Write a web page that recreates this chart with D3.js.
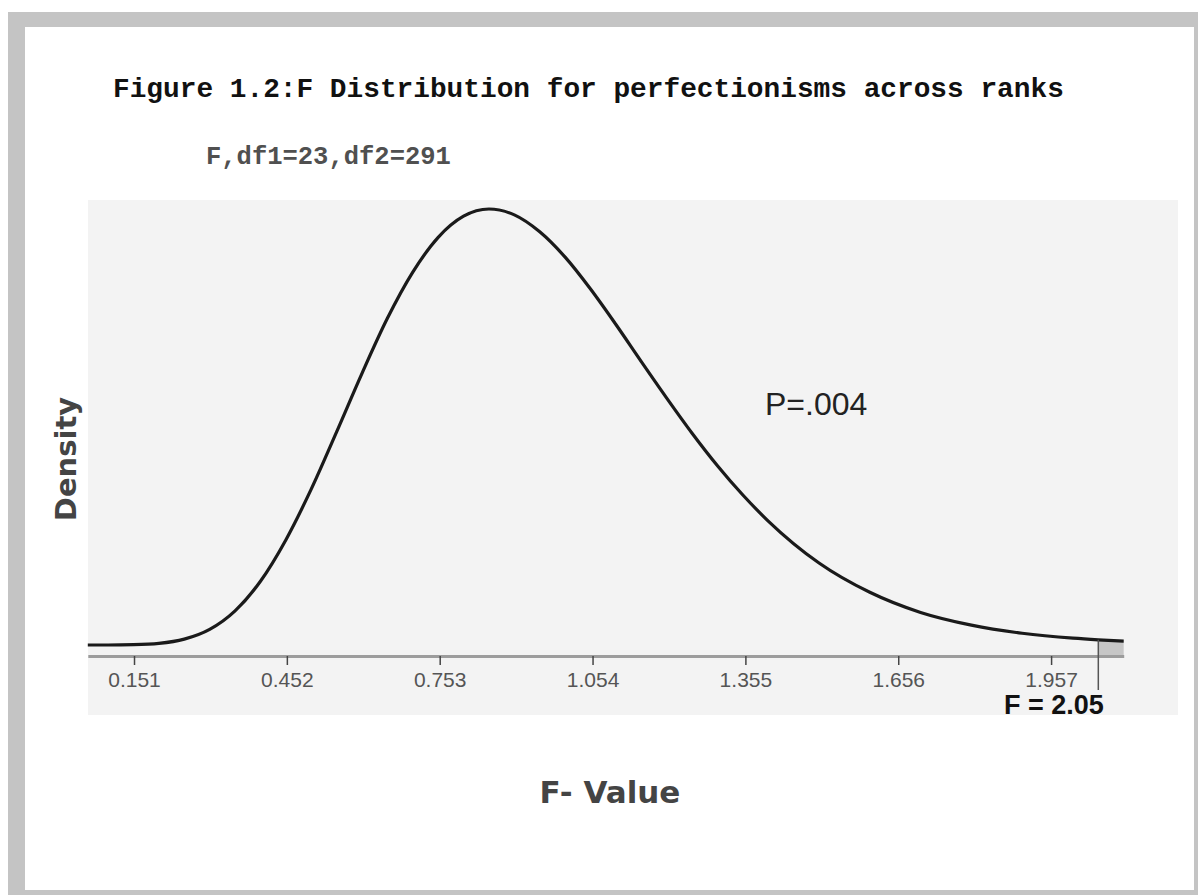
<!DOCTYPE html>
<html>
<head>
<meta charset="utf-8">
<script src="https://cdn.jsdelivr.net/npm/d3@7"></script>
<style>
  html, body { margin: 0; padding: 0; background: #fff; }
  svg { display: block; }
</style>
</head>
<body>
<svg id="chart"></svg>
<script>
// values
const fValues = [0.06, 0.10, 0.15, 0.20, 0.25, 0.30, 0.35, 0.40, 0.45, 0.50,
  0.55, 0.60, 0.65, 0.70, 0.75, 0.80, 0.85, 0.90, 0.95, 1.00,
  1.05, 1.10, 1.15, 1.20, 1.25, 1.30, 1.35, 1.40, 1.50, 1.60,
  1.70, 1.80, 1.90, 2.00, 2.05, 2.10];
const densityValues = [0.000, 0.000, 0.001, 0.005, 0.018, 0.048, 0.105, 0.196, 0.323, 0.479,
  0.655, 0.835, 1.004, 1.146, 1.253, 1.318, 1.340, 1.322, 1.270, 1.192,
  1.094, 0.985, 0.871, 0.759, 0.651, 0.551, 0.461, 0.381, 0.252, 0.162,
  0.100, 0.061, 0.036, 0.021, 0.016, 0.012];
const tickValues = [0.151, 0.452, 0.753, 1.054, 1.355, 1.656, 1.957];
const tickLabels = ['0.151', '0.452', '0.753', '1.054', '1.355', '1.656', '1.957'];
const criticalF = 2.05;

const titleText = 'Figure 1.2:F Distribution for perfectionisms across ranks';
const subtitleText = 'F,df1=23,df2=291';
const pText = 'P=.004';
const fText = 'F = 2.05';

const width = 1198, height = 895;
const axisY = 656;

const svg = d3.select('#chart')
  .attr('width', width)
  .attr('height', height);

// grey page frame
const frame = '#c4c4c4';
svg.append('rect').attr('x', 8).attr('y', 12).attr('width', width - 8).attr('height', 15).attr('fill', frame);
svg.append('rect').attr('x', 8).attr('y', 12).attr('width', 17).attr('height', height - 12).attr('fill', frame);
svg.append('rect').attr('x', 8).attr('y', 890).attr('width', width - 8).attr('height', 5).attr('fill', frame);
svg.append('rect').attr('x', 1194).attr('y', 12).attr('width', 4).attr('height', height - 12).attr('fill', frame);

// plot background
svg.append('rect')
  .attr('x', 88).attr('y', 200)
  .attr('width', 1090).attr('height', 515)
  .attr('fill', '#f3f3f3');

const x = d3.scaleLinear()
  .domain([0.06, 2.10])
  .range([87.8, 1123.7]);

const y = d3.scaleLinear()
  .domain([0, 1.4])
  .range([645, 189.5]);

const points = fValues.map((f, i) => ({ f: f, d: densityValues[i] }));

// shaded tail beyond F = 2.05
const tail = points.filter(p => p.f >= criticalF);
svg.append('path')
  .datum(tail)
  .attr('fill', '#c6c6c6')
  .attr('d', d3.area()
    .x(p => x(p.f))
    .y0(axisY)
    .y1(p => y(p.d)));

// x axis
const xAxis = d3.axisBottom(x)
  .tickValues(tickValues)
  .tickFormat((d, i) => tickLabels[i])
  .tickSize(9)
  .tickSizeOuter(0)
  .tickPadding(7);

const axisG = svg.append('g')
  .attr('transform', `translate(0,${axisY})`)
  .call(xAxis);

axisG.select('.domain')
  .attr('stroke', '#9c9c9c')
  .attr('stroke-width', 3);

axisG.selectAll('.tick line')
  .attr('stroke', '#444')
  .attr('stroke-width', 1.5);

axisG.selectAll('.tick text')
  .attr('fill', '#555')
  .style('font-family', '"Liberation Sans", Arial, sans-serif')
  .style('font-size', '21px');

// density curve
svg.append('path')
  .datum(points)
  .attr('fill', 'none')
  .attr('stroke', '#1a1a1a')
  .attr('stroke-width', 3.2)
  .attr('stroke-linejoin', 'round')
  .attr('d', d3.line()
    .x(p => x(p.f))
    .y(p => y(p.d))
    .curve(d3.curveMonotoneX));

// marker at the critical value
const critDensity = densityValues[fValues.indexOf(criticalF)];
svg.append('line')
  .attr('x1', x(criticalF)).attr('x2', x(criticalF))
  .attr('y1', y(critDensity)).attr('y2', 690)
  .attr('stroke', '#555')
  .attr('stroke-width', 1.5);

// texts
svg.append('text')
  .attr('x', 113).attr('y', 97)
  .style('font-family', '"Liberation Mono", "DejaVu Sans Mono", monospace')
  .style('font-weight', 'bold')
  .style('font-size', '27.8px')
  .attr('fill', '#111')
  .text(titleText);

svg.append('text')
  .attr('x', 206).attr('y', 164)
  .style('font-family', '"Liberation Mono", "DejaVu Sans Mono", monospace')
  .style('font-weight', 'bold')
  .style('font-size', '25.5px')
  .attr('fill', '#505050')
  .text(subtitleText);

svg.append('text')
  .attr('transform', 'translate(76,459) rotate(-90)')
  .attr('text-anchor', 'middle')
  .style('font-family', '"DejaVu Sans", sans-serif')
  .style('font-weight', 'bold')
  .style('font-size', '29px')
  .attr('fill', '#444')
  .text('Density');

svg.append('text')
  .attr('x', 610).attr('y', 803)
  .attr('text-anchor', 'middle')
  .style('font-family', '"DejaVu Sans", sans-serif')
  .style('font-weight', 'bold')
  .style('font-size', '31px')
  .attr('fill', '#444')
  .text('F- Value');

svg.append('text')
  .attr('x', 765).attr('y', 415)
  .style('font-family', '"Liberation Sans", Arial, sans-serif')
  .style('font-size', '32px')
  .attr('fill', '#222')
  .text(pText);

svg.append('text')
  .attr('x', 1004).attr('y', 714)
  .style('font-family', '"Liberation Sans", Arial, sans-serif')
  .style('font-weight', 'bold')
  .style('font-size', '27px')
  .attr('fill', '#111')
  .text(fText);
</script>
</body>
</html>
